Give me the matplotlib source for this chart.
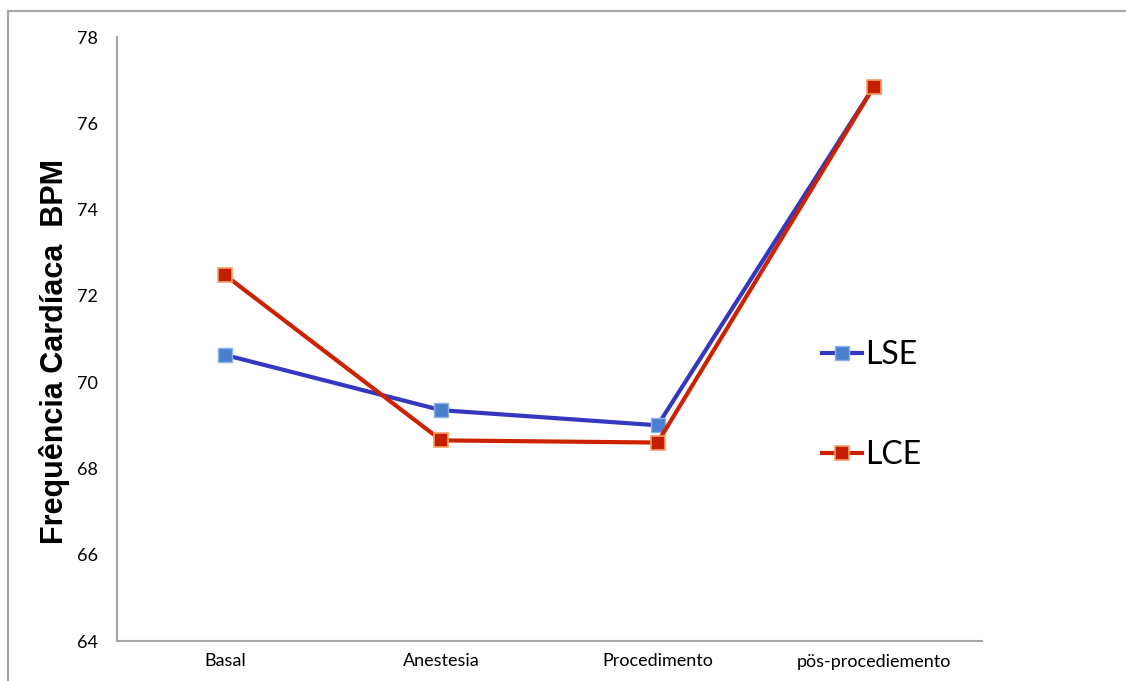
import matplotlib.pyplot as plt
from matplotlib.patches import Rectangle

categories = ['Basal', 'Anestesia', 'Procedimento', 'pös-procediemento']
lse = [70.63, 69.35, 69.0, 76.85]
lce = [72.48, 68.65, 68.6, 76.85]
yticks = [64, 66, 68, 70, 72, 74, 76, 78]

W, H = 1126, 681
fig = plt.figure(figsize=(W / 100, H / 100), dpi=100)
ax = fig.add_axes([117 / W, 1 - 641 / H, (982 - 117) / W, (641 - 37) / H])

# outer frame (chart area border)
fig.patches.append(Rectangle((8 / W, -0.05), 1.2, 1 - 11 / H + 0.05, transform=fig.transFigure,
                             fill=False, edgecolor='#a6a6a6', linewidth=1.6))

x = list(range(len(categories)))
ax.plot(x, lse, color='#3437c0', lw=3, marker='s', ms=10,
        markerfacecolor='#4a7fd0', markeredgecolor='#8fb2e6', markeredgewidth=1, label='LSE')
ax.plot(x, lce, color='#cc2200', lw=3, marker='s', ms=10,
        markerfacecolor='#c41e00', markeredgecolor='#f7a060', markeredgewidth=1.2, label='LCE')

ax.set_xlim(-0.5, 3.5)
ax.set_ylim(64, 78)
ax.set_yticks(yticks)
ax.set_xticks(x)
ax.set_xticklabels(categories)
for s in ['top', 'right']:
    ax.spines[s].set_visible(False)
for s in ['left', 'bottom']:
    ax.spines[s].set_color('#a6a6a6')
    ax.spines[s].set_linewidth(1.5)
ax.tick_params(axis='both', length=0, labelsize=13)
ax.tick_params(axis='y', pad=14)
ax.tick_params(axis='x', pad=9)
for lab in ax.get_xticklabels() + ax.get_yticklabels():
    lab.set_family('Lato')

fig.text(55 / W, 1 - 352 / H, 'Frequência Cardíaca  BPM', rotation=90, ha='center', va='center',
         fontsize=22, fontweight='bold', family='Liberation Sans')

leg = fig.legend(loc='center left', bbox_to_anchor=(822 / W, 1 - 405 / H), frameon=False,
                 prop={'family': 'Lato', 'size': 23}, handlelength=1.25, handletextpad=0.1,
                 labelspacing=2.18, borderpad=0, borderaxespad=0)

fig.savefig('out.png', dpi=100)
